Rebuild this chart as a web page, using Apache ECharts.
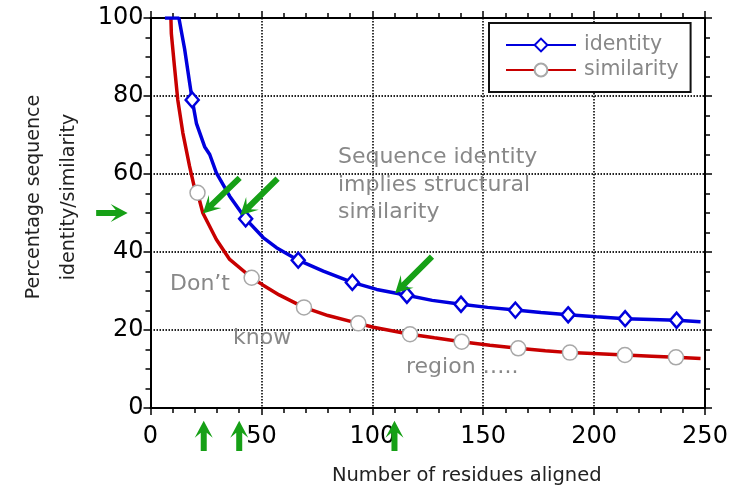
<!DOCTYPE html>
<html>
<head>
<meta charset="utf-8">
<script src="https://cdn.jsdelivr.net/npm/echarts@6/dist/echarts.min.js"></script>
<style>
html, body { margin: 0; padding: 0; background: #fff; }
#chart { width: 746px; height: 491px; }
</style>
</head>
<body>
<div id="chart"></div>
<script>
// identity curve (blue)
const identityX = [6.5, 12.8, 15.4, 17.6, 18.8, 20.7, 24.4, 26.7, 29.7, 35.7, 42.9, 50.8, 56.8, 66.6, 77.9, 91, 102, 115.6, 127, 140, 152, 164.5, 176, 188.3, 201, 214, 226, 237.2, 248];
const identityY = [100, 100, 92, 83.5, 79, 73, 67, 65, 60.3, 54.3, 48.5, 43.7, 41.1, 37.9, 35.1, 32.2, 30.4, 28.9, 27.6, 26.6, 25.8, 25.1, 24.5, 23.9, 23.4, 22.9, 22.7, 22.5, 22.1];
const identityMarks = [18.8, 42.9, 66.6, 91, 115.6, 140, 164.5, 188.3, 214, 237.2];

// similarity curve (red)
const similarityX = [9.2, 9.4, 10.8, 12.3, 14.6, 17.6, 19.6, 21.2, 23.6, 29.7, 35.7, 45.6, 50.8, 58, 69.2, 80, 93.7, 100.5, 117, 128, 140.3, 153, 165.8, 178, 189.1, 202, 213.9, 226, 236.9, 248];
const similarityY = [100, 96, 87.6, 79, 70.5, 62, 57, 55.2, 50, 43.2, 38.1, 33.4, 31.5, 29, 25.8, 23.7, 21.7, 20.7, 18.9, 18, 17, 16.1, 15.3, 14.7, 14.2, 13.9, 13.6, 13.3, 13.0, 12.7];
const similarityMarks = [21.2, 45.6, 69.2, 93.7, 117, 140.3, 165.8, 189.1, 213.9, 236.9];

// annotations (data coordinates)
const noteText = ["Sequence identity", "implies structural", "similarity", "Don\u2019t", "know", "region \u2026.."];
const noteX = [84.5, 84.5, 84.5, 8.8, 37.2, 115.2];
const noteY = [64.2, 57.1, 50.2, 31.7, 17.9, 10.5];

// green arrows: [tailX, tailY, headX, headY]
const arrows = [
    [40.2, 59.0, 23.6, 49.9],
    [57.3, 58.8, 40.5, 49.4],
    [126.9, 38.8, 110.3, 29.4],
    [-24.5, 50, -10.3, 50],
    [24, -11, 24, -3.3],
    [40, -11, 40, -3.3],
    [110, -11, 110, -3.3],
];

const FONT = "DejaVu Sans";

const buildData = (xs, ys, marks) => xs.map((x, i) => (
    marks.includes(x) ? [x, ys[i]] : { value: [x, ys[i]], symbol: "none" }
));

const xAxisBase = {
    type: "value",
    min: 0,
    max: 250,
    interval: 50,
    axisLine: { show: true, onZero: false, lineStyle: { color: "#000", width: 2 } },
    axisTick: { show: true, inside: false, length: 7, lineStyle: { color: "#000", width: 1.5 } },
    minorTick: { show: true, splitNumber: 5, length: 5, lineStyle: { color: "#000", width: 1.5 } },
};
const yAxisBase = {
    type: "value",
    min: 0,
    max: 100,
    interval: 20,
    axisLine: { show: true, onZero: false, lineStyle: { color: "#000", width: 2 } },
    axisTick: { show: true, inside: false, length: 7, lineStyle: { color: "#000", width: 1.5 } },
    minorTick: { show: true, splitNumber: 4, length: 5, lineStyle: { color: "#000", width: 1.5 } },
};
const gridLine = { show: true, lineStyle: { color: "#222", width: 1.8, type: [1.5, 1.5] } };

const chart = echarts.init(document.getElementById("chart"));

chart.setOption({
    animation: false,
    backgroundColor: "#fff",
    grid: { left: 150.5, right: 41, top: 18, bottom: 82, containLabel: false },
    legend: {
        left: 489,
        top: 23,
        orient: "vertical",
        backgroundColor: "#fff",
        borderColor: "#111",
        borderWidth: 2,
        borderRadius: 0,
        padding: [11, 12, 11, 16],
        itemGap: 3,
        itemWidth: 70,
        itemHeight: 16,
        textStyle: { color: "#888", fontSize: 20.5, fontFamily: FONT, lineHeight: 22, padding: [0, 0, 0, 3] },
        data: ["identity", "similarity"],
    },
    xAxis: [
        {
            ...xAxisBase,
            position: "bottom",
            name: "Number of residues aligned",
            nameLocation: "middle",
            nameGap: 58,
            nameTextStyle: { color: "#222", fontSize: 19.5, fontFamily: FONT, padding: [0, 0, 0, 78] },
            axisLabel: { color: "#000", fontSize: 24, fontFamily: FONT, margin: 17 },
            splitLine: gridLine,
        },
        {
            ...xAxisBase,
            position: "top",
            axisLabel: { show: false },
            splitLine: { show: false },
        },
    ],
    yAxis: [
        {
            ...yAxisBase,
            position: "left",
            name: "Percentage sequence\nidentity/similarity",
            nameLocation: "middle",
            nameRotate: 90,
            nameGap: 62,
            nameTextStyle: { color: "#222", fontSize: 19, fontFamily: FONT, lineHeight: 35, padding: [0, 0, 0, 32] },
            axisLabel: { color: "#000", fontSize: 24, fontFamily: FONT, margin: 7 },
            splitLine: gridLine,
        },
        {
            ...yAxisBase,
            position: "right",
            axisLabel: { show: false },
            splitLine: { show: false },
        },
    ],
    series: [
        {
            name: "identity",
            type: "line",
            z: 3,
            showAllSymbol: true,
            symbol: "diamond",
            symbolSize: [13, 15],
            lineStyle: { color: "#0000dd", width: 3.5 },
            itemStyle: { color: "#fff", borderColor: "#0000dd", borderWidth: 2.5 },
            data: buildData(identityX, identityY, identityMarks),
        },
        {
            name: "similarity",
            type: "line",
            z: 2,
            showAllSymbol: true,
            symbol: "circle",
            symbolSize: 15,
            lineStyle: { color: "#c80000", width: 3.5 },
            itemStyle: { color: "#fff", borderColor: "#a8a8a8", borderWidth: 1.5 },
            data: buildData(similarityX, similarityY, similarityMarks),
        },
    ],
});

// arrow polygon from tail to head (pixels)
const arrowShape = (t, h) => {
    const dx = h[0] - t[0];
    const dy = h[1] - t[1];
    const len = Math.hypot(dx, dy);
    const ux = dx / len, uy = dy / len;
    const nx = -uy, ny = ux;
    const w = 3, hl = 17, hw = 9;
    const pt = (a, b) => [h[0] - ux * a + nx * b, h[1] - uy * a + ny * b];
    return [
        [t[0] + nx * w, t[1] + ny * w],
        pt(hl * 0.7, w),
        pt(hl, hw),
        [h[0], h[1]],
        pt(hl, -hw),
        pt(hl * 0.7, -w),
        [t[0] - nx * w, t[1] - ny * w],
    ];
};

const toPx = (x, y) => chart.convertToPixel({ xAxisIndex: 0, yAxisIndex: 0 }, [x, y]);

const graphics = [];
arrows.forEach(([tx, ty, hx, hy]) => {
    graphics.push({
        type: "polygon",
        z: 10,
        shape: { points: arrowShape(toPx(tx, ty), toPx(hx, hy)) },
        style: { fill: "#16a016" },
    });
});
noteText.forEach((text, i) => {
    const p = toPx(noteX[i], noteY[i]);
    graphics.push({
        type: "text",
        z: 10,
        x: p[0],
        y: p[1],
        style: { text, fill: "#888", fontSize: 22, fontFamily: FONT, verticalAlign: "middle", align: "left" },
    });
});
chart.setOption({ graphic: graphics });
</script>
</body>
</html>
